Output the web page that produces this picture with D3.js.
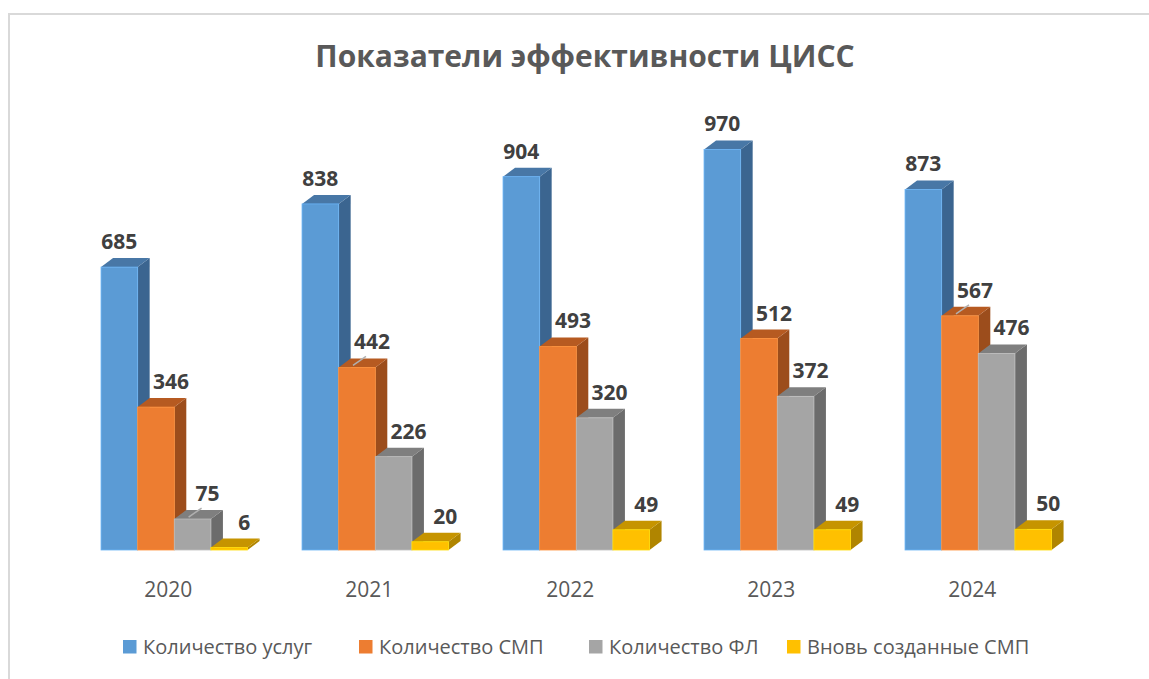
<!DOCTYPE html>
<html>
<head>
<meta charset="utf-8">
<script src="https://cdn.jsdelivr.net/npm/d3@7"></script>
<style>
  body { margin: 0; background: #fff; }
  svg { display: block; font-family: "Open Sans", sans-serif; }
</style>
</head>
<body>
<div id="chart"></div>
<script>
// data
const years = ["2020", "2021", "2022", "2023", "2024"];
const seriesNames = ["Количество услуг", "Количество СМП", "Количество ФЛ", "Вновь созданные СМП"];
const uslugi = [685, 838, 904, 970, 873];
const smp = [346, 442, 493, 512, 567];
const fl = [75, 226, 320, 372, 476];
const novyeSmp = [6, 20, 49, 49, 50];
const allSeries = [uslugi, smp, fl, novyeSmp];
// labels that Excel drew with a leader line: [yearIndex, seriesIndex]
const leaders = [[0, 2], [1, 1], [4, 1]];

function main() {
    const W = 1149, H = 679;
    const front = ["#5b9bd5", "#ed7d31", "#a5a5a5", "#ffc000"];
    const side  = ["#3b6590", "#9c4d1c", "#6c6c6c", "#b08500"];
    const top   = ["#4877a6", "#b65a21", "#7f7f7f", "#c69400"];
    const dx = 12, dy = 9;

    const svg = d3.select("#chart").append("svg")
        .attr("width", W).attr("height", H);

    // outer frame (only left and top edges visible)
    svg.append("path")
        .attr("d", "M9,679 L9,14 L1149,14")
        .attr("fill", "none")
        .attr("stroke", "#d9d9d9")
        .attr("stroke-width", 2);

    svg.append("text")
        .attr("x", 585).attr("y", 67)
        .attr("text-anchor", "middle")
        .attr("fill", "#595959")
        .style("font-size", "30px")
        .style("font-weight", "bold")
        .text("Показатели эффективности ЦИСС");

    const x0 = d3.scaleBand()
        .domain(years)
        .range([73.8, 1078.8])
        .paddingInner(0.271)
        .paddingOuter(0.1355);
    const x1 = d3.scaleBand()
        .domain(d3.range(seriesNames.length))
        .range([0, x0.bandwidth()]);
    const y = d3.scaleLinear()
        .domain([0, 1000])
        .range([550, 137]);

    const bars = [];
    years.forEach((yr, i) => {
        allSeries.forEach((s, k) => {
            bars.push({year: yr, i: i, k: k, v: s[i]});
        });
    });

    const g = svg.append("g");
    const bw = x1.bandwidth();

    const bar = g.selectAll("g.bar")
        .data(bars)
        .enter().append("g")
        .attr("class", "bar");

    // side face
    bar.append("path")
        .attr("d", d => {
            const xr = x0(d.year) + x1(d.k) + bw, yt = y(d.v), yb = y(0);
            return `M${xr},${yt} L${xr + dx},${yt - dy} L${xr + dx},${yb - dy} L${xr},${yb} Z`;
        })
        .attr("fill", d => side[d.k]);
    // top face
    bar.append("path")
        .attr("d", d => {
            const xl = x0(d.year) + x1(d.k), yt = y(d.v);
            return `M${xl},${yt} L${xl + dx},${yt - dy} L${xl + bw + dx},${yt - dy} L${xl + bw},${yt} Z`;
        })
        .attr("fill", d => top[d.k]);
    // front face
    bar.append("rect")
        .attr("x", d => x0(d.year) + x1(d.k))
        .attr("y", d => y(d.v))
        .attr("width", bw)
        .attr("height", d => y(0) - y(d.v))
        .attr("fill", d => front[d.k])
        .attr("stroke", d => d3.color(front[d.k]).brighter(0.4))
        .attr("stroke-width", 0.8);

    // leader lines
    g.selectAll("line.leader")
        .data(leaders)
        .enter().append("line")
        .attr("x1", d => x0(years[d[0]]) + x1(d[1]) + bw / 2 - 4)
        .attr("y1", d => y(allSeries[d[1]][d[0]]) - 2)
        .attr("x2", d => x0(years[d[0]]) + x1(d[1]) + bw / 2 + 9)
        .attr("y2", d => y(allSeries[d[1]][d[0]]) - 11)
        .attr("stroke", "#b0b0b0")
        .attr("stroke-width", 1.5);

    // data labels
    g.selectAll("text.val")
        .data(bars)
        .enter().append("text")
        .attr("x", d => x0(d.year) + x1(d.k) + bw / 2 + (d.k === 0 ? 0 : 15))
        .attr("y", d => y(d.v) - 18)
        .attr("text-anchor", "middle")
        .attr("fill", "#404040")
        .style("font-size", "21px")
        .style("font-weight", "bold")
        .text(d => d.v);

    // category axis labels
    svg.append("g")
        .selectAll("text")
        .data(years)
        .enter().append("text")
        .attr("x", d => x0(d) + x0.bandwidth() / 2 - 6)
        .attr("y", 597)
        .attr("text-anchor", "middle")
        .attr("fill", "#595959")
        .style("font-size", "21px")
        .text(d => d);

    // legend
    const legX = [123, 359, 589, 787];
    const leg = svg.append("g").selectAll("g")
        .data(seriesNames)
        .enter().append("g")
        .attr("transform", (d, i) => `translate(${legX[i]}, 640)`);
    leg.append("rect")
        .attr("width", 13.5).attr("height", 13.5)
        .attr("fill", (d, i) => front[i]);
    leg.append("text")
        .attr("x", 20).attr("y", 13.5)
        .attr("fill", "#595959")
        .style("font-size", "20px")
        .text(d => d);
}

main()
</script>
</body>
</html>
